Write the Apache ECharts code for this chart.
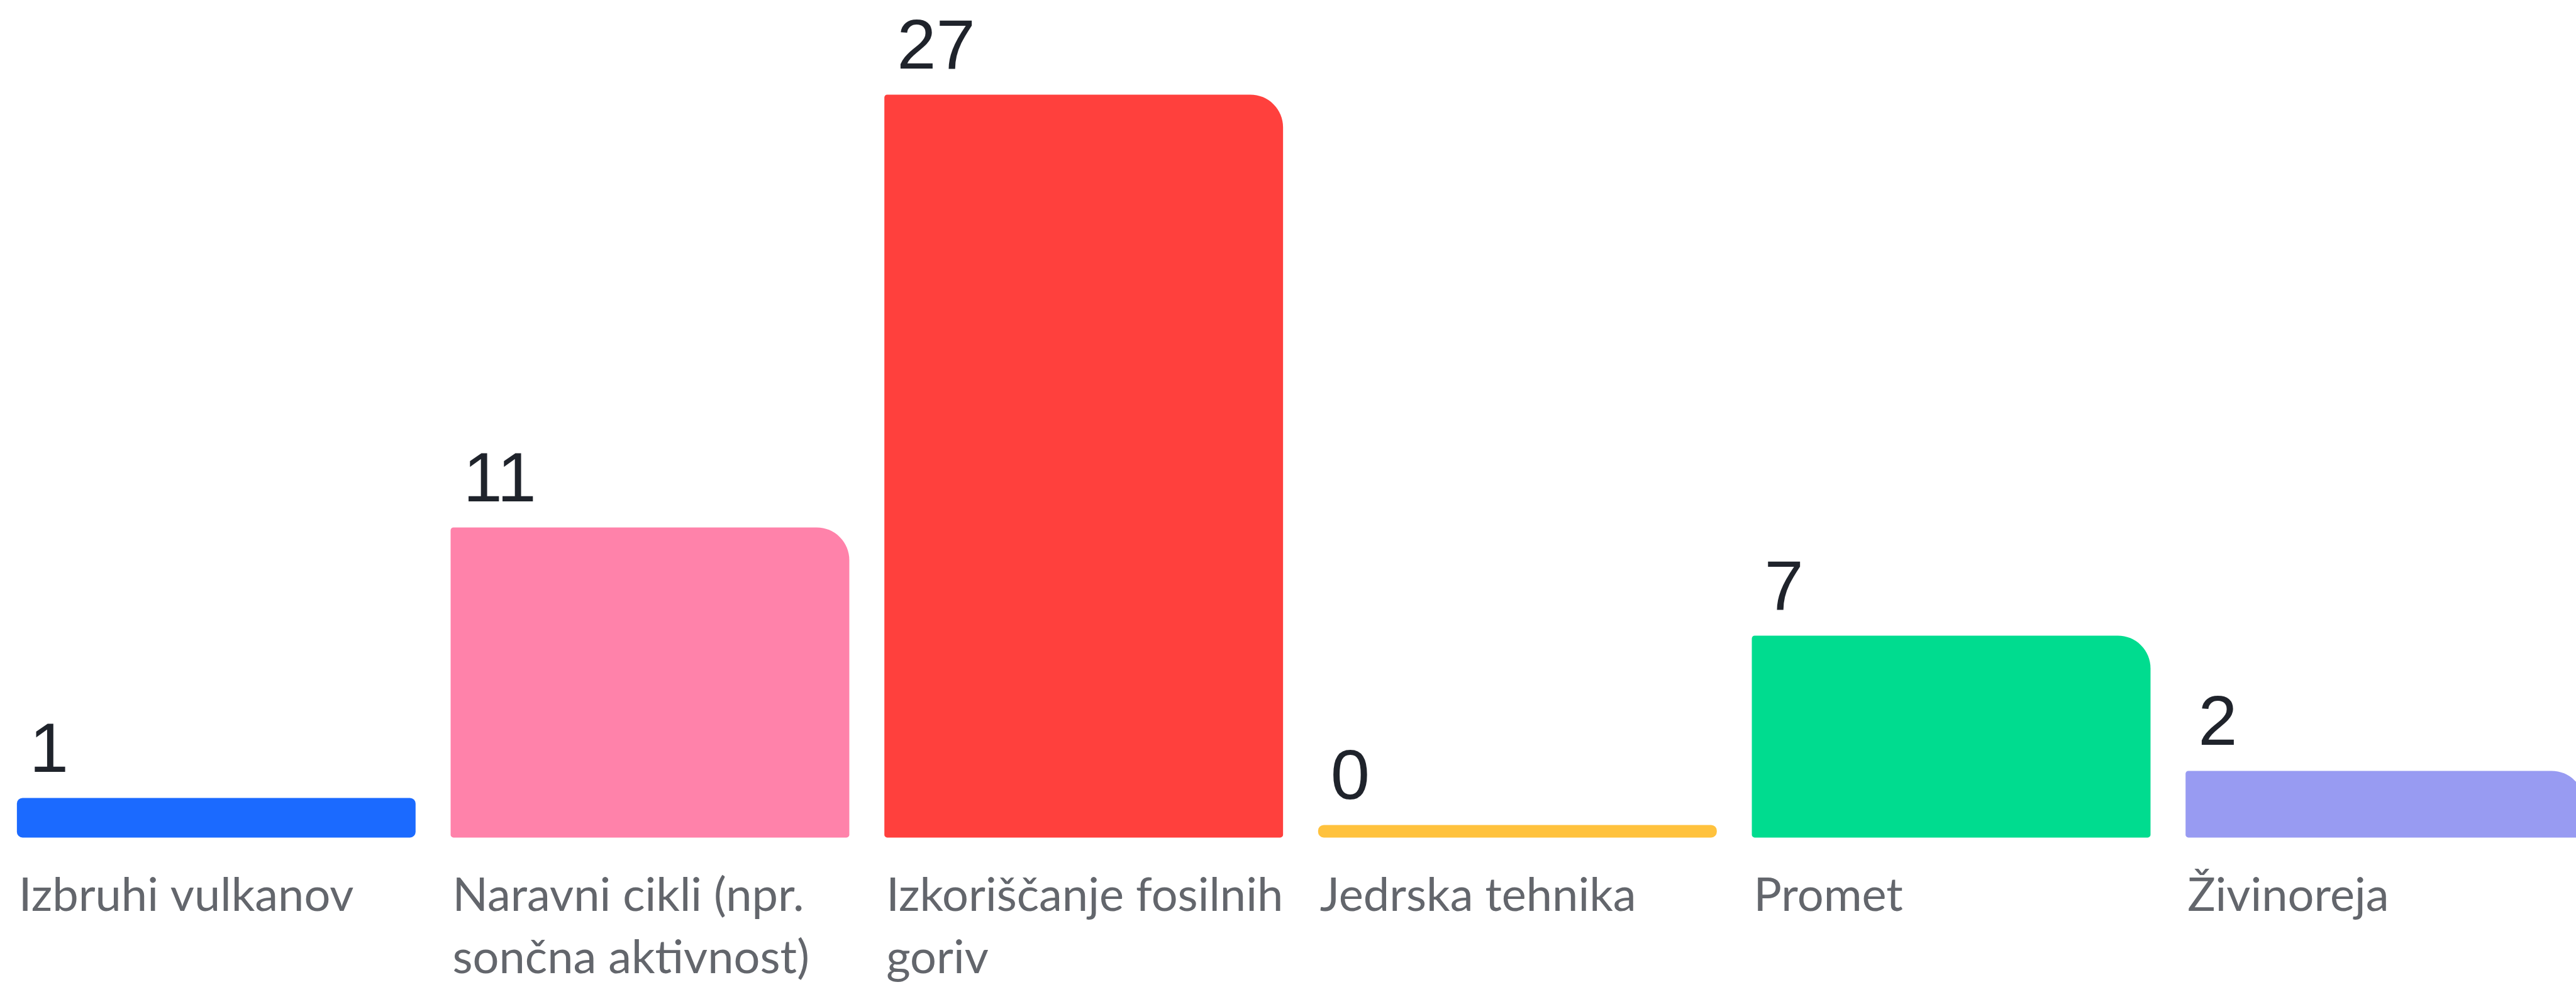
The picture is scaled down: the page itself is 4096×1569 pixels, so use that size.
<!DOCTYPE html>
<html>
<head>
<meta charset="utf-8">
<script src="https://cdn.jsdelivr.net/npm/echarts@6/dist/echarts.min.js"></script>
<style>
html,body{margin:0;padding:0;background:#ffffff;}
#chart{width:4096px;height:1569px;}
</style>
</head>
<body>
<div id="chart"></div>
<script>
// ---- data ----
const categories = [
  'Izbruhi vulkanov',
  'Naravni cikli (npr. sončna aktivnost)',
  'Izkoriščanje fosilnih goriv',
  'Jedrska tehnika',
  'Promet',
  'Živinoreja'
];
const values = [1, 11, 27, 0, 7, 2];
const barColors = ['#1B6AFF', '#FF82AA', '#FF403D', '#FFC23D', '#00DC8F', '#989BF2'];

// ---- style constants (output px) ----
const BASE = 20;           // every bar has a minimum stub below value 0
const BAR_FRAC = 0.9192;   // bar width / category band
const LABEL_GAP = 43;      // bar bottom -> category label top
const CAT_FONT = '74px Lato, sans-serif';
const WRAP_W = 700;

// word wrap without leading spaces on continuation lines
const measureCtx = document.createElement('canvas').getContext('2d');
function wrapWords(text) {
  measureCtx.font = CAT_FONT;
  const words = text.split(' ');
  const lines = [];
  let cur = '';
  words.forEach(w => {
    const trial = cur ? cur + ' ' + w : w;
    if (cur && measureCtx.measureText(trial).width > WRAP_W) {
      lines.push(cur);
      cur = w;
    } else {
      cur = trial;
    }
  });
  if (cur) lines.push(cur);
  return lines.join('\n');
}

const chart = echarts.init(document.getElementById('chart'), null, {renderer: 'canvas'});

function renderItem(params, api) {
  const i = api.value(0);
  const v = api.value(1);
  const topPt = api.coord([i, v]);
  const zeroPt = api.coord([i, 0]);
  const band = api.size([1, 0])[0];
  const w = band * BAR_FRAC;
  const x = topPt[0] - w / 2;
  const yTop = topPt[1];
  const yBot = zeroPt[1] + BASE;
  const h = yBot - yTop;
  let r;
  if (h < 80) {
    const s = Math.min(h / 2, 9);
    r = [s, s, s, s];
  } else {
    r = [4.5, 52, 4.5, 4.5];
  }
  return {
    type: 'group',
    children: [
      {
        type: 'rect',
        shape: {x: x, y: yTop, width: w, height: h, r: r},
        style: {fill: barColors[i]}
      },
      {
        type: 'text',
        style: {
          text: String(v),
          x: x + 20,
          y: yTop - 72,
          align: 'left',
          verticalAlign: 'middle',
          fontSize: 112,
          fontFamily: '"Liberation Sans", Arial, sans-serif',
          fill: '#1F232B'
        }
      },
      {
        type: 'text',
        style: {
          text: wrapWords(categories[i]),
          x: x + 3,
          y: yBot + LABEL_GAP,
          align: 'left',
          verticalAlign: 'top',
          lineHeight: 99,
          fontSize: 74,
          fontFamily: 'Lato, sans-serif',
          fill: '#63666C'
        }
      }
    ]
  };
}

chart.setOption({
  animation: false,
  backgroundColor: '#ffffff',
  grid: {left: -1, top: 150.4, width: 4138, height: 1161, outerBoundsMode: 'none', containLabel: false},
  xAxis: {
    type: 'category',
    data: categories,
    show: false
  },
  yAxis: {
    type: 'value',
    min: 0,
    max: 27,
    show: false
  },
  series: [{
    type: 'custom',
    renderItem: renderItem,
    clip: false,
    data: values.map((v, i) => [i, v])
  }]
});
</script>
</body>
</html>
